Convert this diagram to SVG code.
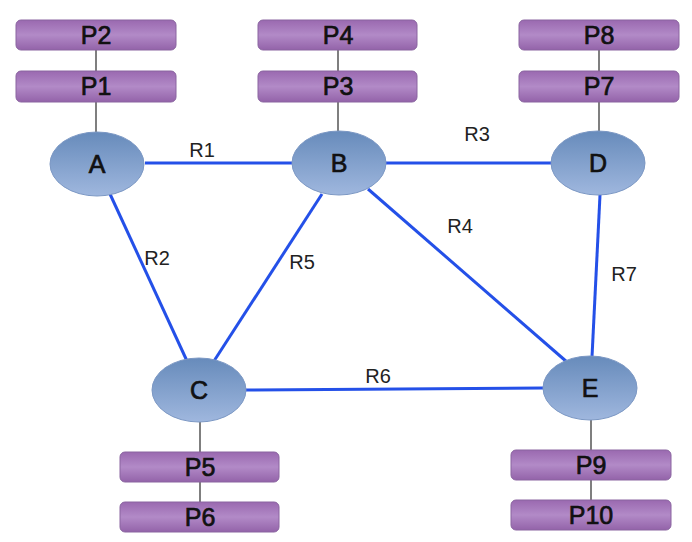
<svg xmlns="http://www.w3.org/2000/svg" width="692" height="542" viewBox="0 0 692 542">
<defs>
<linearGradient id="gBox" x1="0" y1="0" x2="0" y2="1">
<stop offset="0" stop-color="#9a69b0"/>
<stop offset="0.5" stop-color="#b28ac7"/>
<stop offset="1" stop-color="#9363a9"/>
</linearGradient>
<linearGradient id="gNode" x1="0" y1="0" x2="0" y2="1">
<stop offset="0" stop-color="#678bbb"/>
<stop offset="1" stop-color="#9fb7de"/>
</linearGradient>
<style>
.box{fill:url(#gBox);stroke:#8a64a0;stroke-width:1}
.node{fill:url(#gNode);stroke:#7c98c4;stroke-width:1}
.lbl{font-family:"Liberation Sans",Arial,sans-serif;font-size:25px;fill:#111;stroke:#111;stroke-width:0.7;text-anchor:middle}
.elbl{font-family:"Liberation Sans",Arial,sans-serif;font-size:20px;fill:#222;text-anchor:middle}
.edge{stroke:#2450e8;stroke-width:3;fill:none}
.stem{stroke:#555;stroke-width:1.5;fill:none}
</style>
</defs>
<rect width="692" height="542" fill="#ffffff"/>
<g id="connectors">
<line class="stem" x1="96" y1="50" x2="96" y2="132"/>
<line class="stem" x1="338" y1="50" x2="338" y2="132"/>
<line class="stem" x1="599" y1="50" x2="599" y2="132"/>
<line class="stem" x1="200" y1="422" x2="200" y2="503"/>
<line class="stem" x1="591" y1="420" x2="591" y2="500"/>
<line class="edge" x1="145" y1="163" x2="292" y2="163"/>
<line class="edge" x1="386" y1="163" x2="552" y2="163"/>
<line class="edge" x1="110" y1="194" x2="187" y2="361"/>
<line class="edge" x1="322" y1="194" x2="214" y2="361"/>
<line class="edge" x1="368" y1="189" x2="567" y2="362"/>
<line class="edge" x1="600" y1="195" x2="592" y2="357"/>
<line class="edge" x1="246" y1="390" x2="543" y2="388"/>
<text class="elbl" x="202" y="157">R1</text>
<text class="elbl" x="477" y="141">R3</text>
<text class="elbl" x="157" y="265">R2</text>
<text class="elbl" x="302" y="269">R5</text>
<text class="elbl" x="460" y="233">R4</text>
<text class="elbl" x="624" y="281">R7</text>
<text class="elbl" x="378" y="383">R6</text>
</g>
<g id="P2"><rect class="box" x="16" y="20" width="160" height="30" rx="5"/><text class="lbl" x="96" y="44">P2</text></g>
<g id="P1"><rect class="box" x="16" y="71" width="160" height="31" rx="5"/><text class="lbl" x="96" y="95">P1</text></g>
<g id="P4"><rect class="box" x="258" y="20" width="159" height="30" rx="5"/><text class="lbl" x="338" y="44">P4</text></g>
<g id="P3"><rect class="box" x="258" y="71" width="159" height="31" rx="5"/><text class="lbl" x="338" y="95">P3</text></g>
<g id="P8"><rect class="box" x="519" y="20" width="160" height="30" rx="5"/><text class="lbl" x="599" y="44">P8</text></g>
<g id="P7"><rect class="box" x="519" y="71" width="160" height="31" rx="5"/><text class="lbl" x="599" y="95">P7</text></g>
<g id="P5"><rect class="box" x="120" y="452" width="159" height="30" rx="5"/><text class="lbl" x="200" y="476">P5</text></g>
<g id="P6"><rect class="box" x="120" y="502" width="159" height="30" rx="5"/><text class="lbl" x="200" y="526">P6</text></g>
<g id="P9"><rect class="box" x="511" y="450" width="160" height="30" rx="5"/><text class="lbl" x="591" y="474">P9</text></g>
<g id="P10"><rect class="box" x="511" y="500" width="160" height="30" rx="5"/><text class="lbl" x="591" y="524">P10</text></g>
<g id="A"><ellipse class="node" cx="97" cy="164" rx="47" ry="32"/><text class="lbl" x="97" y="173">A</text></g>
<g id="B"><ellipse class="node" cx="339" cy="163" rx="47" ry="32"/><text class="lbl" x="339" y="172">B</text></g>
<g id="D"><ellipse class="node" cx="598" cy="163" rx="47" ry="32"/><text class="lbl" x="598" y="172">D</text></g>
<g id="C"><ellipse class="node" cx="199" cy="390" rx="47" ry="32"/><text class="lbl" x="199" y="399">C</text></g>
<g id="E"><ellipse class="node" cx="590" cy="388" rx="47" ry="32"/><text class="lbl" x="590" y="397">E</text></g>
</svg>
